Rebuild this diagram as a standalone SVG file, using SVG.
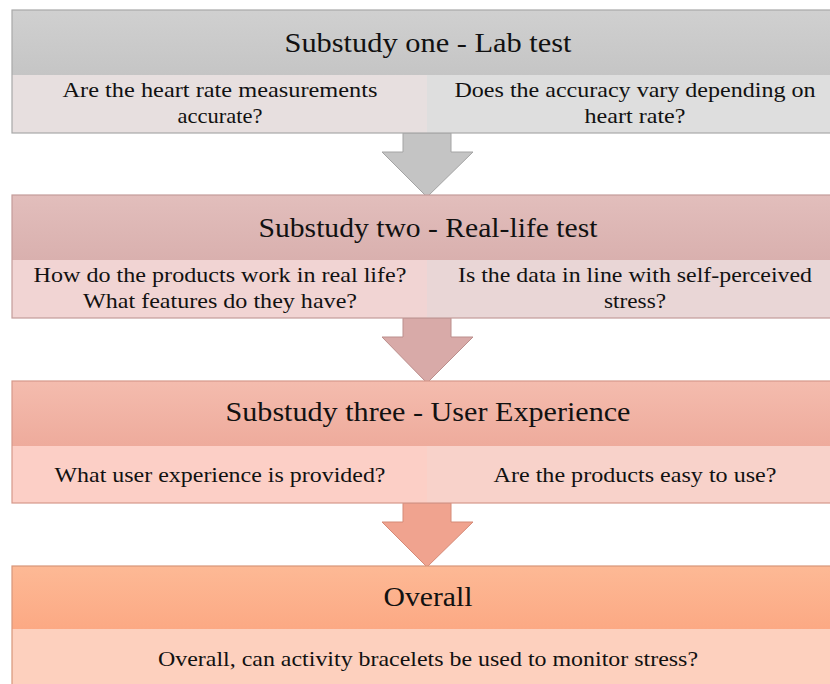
<svg xmlns="http://www.w3.org/2000/svg" width="830" height="684" viewBox="0 0 830 684" font-family="'Liberation Serif', 'Times New Roman', Times, serif">
  <defs>
    <linearGradient id="g1" x1="0" y1="0" x2="0" y2="1">
      <stop offset="0" stop-color="#d0d0d0"/>
      <stop offset="1" stop-color="#c5c5c5"/>
    </linearGradient>
    <linearGradient id="g2" x1="0" y1="0" x2="0" y2="1">
      <stop offset="0" stop-color="#e2bebc"/>
      <stop offset="1" stop-color="#d9b0ae"/>
    </linearGradient>
    <linearGradient id="g3" x1="0" y1="0" x2="0" y2="1">
      <stop offset="0" stop-color="#f4bcae"/>
      <stop offset="1" stop-color="#eeab9c"/>
    </linearGradient>
    <linearGradient id="g4" x1="0" y1="0" x2="0" y2="1">
      <stop offset="0" stop-color="#fdb995"/>
      <stop offset="1" stop-color="#fca984"/>
    </linearGradient>
  </defs>
  <style>
    text { font-family: 'Liberation Serif', 'Times New Roman', Times, serif; fill: #111; text-anchor: middle; }
    .title { font-size: 27px; }
    .q { font-size: 22px; }
    .frame { fill: none; stroke-width: 1.2; }
    .arrow { stroke-width: 1; }
  </style>
  <rect width="830" height="684" fill="#ffffff"/>

  <!-- flow arrows between stages -->
  <g id="connectors">
    <polygon class="arrow" points="403,133 451,133 451,152 473,152 427,197 382,152 403,152" fill="#c4c4c4" stroke="#a4a4a4"/>
    <polygon class="arrow" points="403,318 451,318 451,337 473,337 427,383 382,337 403,337" fill="#d8aaa8" stroke="#bb8e8c"/>
    <polygon class="arrow" points="403,503 451,503 451,522 473,522 427,567 382,522 403,522" fill="#f0a38f" stroke="#d58a77"/>
  </g>

  <!-- stage 1 -->
  <g id="substudy-one">
    <rect x="12" y="10" width="830" height="65" fill="url(#g1)"/>
    <rect x="12" y="75" width="415" height="58" fill="#e7dfdf"/>
    <rect x="427" y="75" width="415" height="58" fill="#dedede"/>
    <rect class="frame" x="12" y="10" width="830" height="123" stroke="#a8a8a8"/>
    <text class="title" x="428" y="52" textLength="287" lengthAdjust="spacingAndGlyphs">Substudy one - Lab test</text>
    <text class="q" x="220" y="97" textLength="315" lengthAdjust="spacingAndGlyphs">Are the heart rate measurements</text>
    <text class="q" x="220" y="123" textLength="85" lengthAdjust="spacingAndGlyphs">accurate?</text>
    <text class="q" x="635" y="97" textLength="361" lengthAdjust="spacingAndGlyphs">Does the accuracy vary depending on</text>
    <text class="q" x="635" y="123" textLength="101" lengthAdjust="spacingAndGlyphs">heart rate?</text>
  </g>

  <!-- stage 2 -->
  <g id="substudy-two">
    <rect x="12" y="195" width="830" height="65" fill="url(#g2)"/>
    <rect x="12" y="260" width="415" height="58" fill="#f1d4d3"/>
    <rect x="427" y="260" width="415" height="58" fill="#e9d6d6"/>
    <rect class="frame" x="12" y="195" width="830" height="123" stroke="#c49c9a"/>
    <text class="title" x="428" y="237" textLength="339" lengthAdjust="spacingAndGlyphs">Substudy two - Real-life test</text>
    <text class="q" x="220" y="282" textLength="373" lengthAdjust="spacingAndGlyphs">How do the products work in real life?</text>
    <text class="q" x="220" y="308" textLength="274" lengthAdjust="spacingAndGlyphs">What features do they have?</text>
    <text class="q" x="635" y="282" textLength="354" lengthAdjust="spacingAndGlyphs">Is the data in line with self-perceived</text>
    <text class="q" x="635" y="308" textLength="62" lengthAdjust="spacingAndGlyphs">stress?</text>
  </g>

  <!-- stage 3 -->
  <g id="substudy-three">
    <rect x="12" y="381" width="830" height="65" fill="url(#g3)"/>
    <rect x="12" y="446" width="415" height="57" fill="#fccfc6"/>
    <rect x="427" y="446" width="415" height="57" fill="#f8d2ca"/>
    <rect class="frame" x="12" y="381" width="830" height="122" stroke="#d6988a"/>
    <text class="title" x="428" y="421" textLength="405" lengthAdjust="spacingAndGlyphs">Substudy three - User Experience</text>
    <text class="q" x="220" y="482" textLength="331" lengthAdjust="spacingAndGlyphs">What user experience is provided?</text>
    <text class="q" x="635" y="482" textLength="283" lengthAdjust="spacingAndGlyphs">Are the products easy to use?</text>
  </g>

  <!-- conclusion -->
  <g id="overall">
    <rect x="12" y="566" width="830" height="63" fill="url(#g4)"/>
    <rect x="12" y="629" width="830" height="60" fill="#fdd0be"/>
    <rect class="frame" x="12" y="566" width="830" height="130" stroke="#d8967a"/>
    <text class="title" x="428" y="606" textLength="89" lengthAdjust="spacingAndGlyphs">Overall</text>
    <text class="q" x="428" y="666" textLength="540" lengthAdjust="spacingAndGlyphs">Overall, can activity bracelets be used to monitor stress?</text>
  </g>
</svg>
